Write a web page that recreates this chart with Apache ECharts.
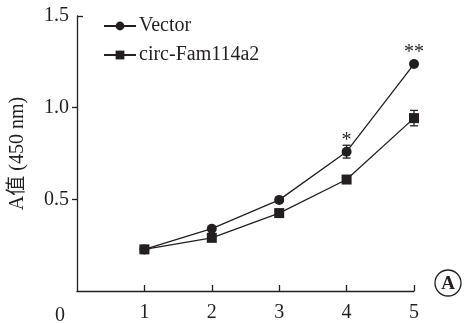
<!DOCTYPE html>
<html><head><meta charset="utf-8">
<script src="https://cdn.jsdelivr.net/npm/echarts@6/dist/echarts.min.js"></script>
<style>html,body{margin:0;padding:0;background:#fff}#c{width:465px;height:323px}</style>
</head><body><div id="c"></div>
<script>
var days = [1, 2, 3, 4, 5];
var vectorVals = [0.227, 0.340, 0.497, 0.760, 1.238];
var vectorErr = [0.006, 0.006, 0.006, 0.035, 0.006];
var circVals = [0.227, 0.290, 0.425, 0.608, 0.943];
var circErr = [0.006, 0.006, 0.006, 0.006, 0.042];
var vectorSig = ['', '', '', '*', '**'];
var yTicks = [0.5, 1.0, 1.5];
var xTicks = [1, 2, 3, 4, 5];

var FONT = '"Liberation Serif","Times New Roman",serif';
var INK = '#231f20';
var FS = 20;

function pts(v) { return days.map(function (d, i) { return [d, v[i]]; }); }
function errData(v, e) { return days.map(function (d, i) { return [d, v[i] - e[i], v[i] + e[i]]; }); }
function errRender(params, api) {
  var x = api.value(0);
  var lo = api.coord([x, api.value(1)]);
  var hi = api.coord([x, api.value(2)]);
  var w = 4;
  var st = { stroke: INK, lineWidth: 1.3 };
  return { type: 'group', children: [
    { type: 'line', shape: { x1: lo[0], y1: lo[1], x2: hi[0], y2: hi[1] }, style: st },
    { type: 'line', shape: { x1: lo[0] - w, y1: lo[1], x2: lo[0] + w, y2: lo[1] }, style: st },
    { type: 'line', shape: { x1: hi[0] - w, y1: hi[1], x2: hi[0] + w, y2: hi[1] }, style: st }
  ]};
}

var chart = echarts.init(document.getElementById('c'), null, { renderer: 'canvas' });
chart.setOption({
  backgroundColor: '#fff',
  animation: false,
  textStyle: { fontFamily: FONT, color: INK },
  grid: { left: 75, right: 51, top: 16, bottom: 28, containLabel: false },
  legend: {
    orient: 'vertical', left: 98, top: 11, itemWidth: 32, itemHeight: 11, itemGap: 9,
    textStyle: { fontFamily: FONT, fontSize: FS, color: INK, padding: [0, 0, 0, -2] },
    data: ['Vector', 'circ-Fam114a2']
  },
  xAxis: {
    type: 'value', min: 0, max: 5, interval: 1,
    axisLine: { lineStyle: { color: INK, width: 1.3 } },
    axisTick: { inside: true, length: 6, customValues: xTicks, lineStyle: { color: INK, width: 1.3 } },
    axisLabel: { customValues: xTicks, fontFamily: FONT, fontSize: FS, color: INK, margin: 12 },
    splitLine: { show: false }
  },
  yAxis: [{
    type: 'value', min: 0, max: 1.5, interval: 0.5,
    name: 'A值 (450 nm)', nameLocation: 'middle', nameGap: 49,
    nameTextStyle: { fontFamily: FONT + ',"Noto Sans CJK SC"', fontSize: FS, color: INK },
    axisLine: { show: true, lineStyle: { color: INK, width: 1.3 } },
    axisTick: { show: true, length: 5, customValues: [0.5, 1.0], lineStyle: { color: INK, width: 1.3 } },
    axisLabel: { customValues: yTicks, fontFamily: FONT, fontSize: FS, color: INK, margin: 8,
      formatter: function (v) { return v.toFixed(1); } },
    splitLine: { show: false }
  }, {
    type: 'value', min: 0, max: 1.5, position: 'left', offset: 0,
    axisLine: { show: false },
    axisTick: { show: true, inside: true, length: 6, customValues: [1.5], lineStyle: { color: INK, width: 1.3 } },
    axisLabel: { show: false }, splitLine: { show: false }
  }],
  series: [
    { name: 'Vector', type: 'line', data: pts(vectorVals), symbol: 'circle', symbolSize: 10,
      itemStyle: { color: INK }, lineStyle: { color: INK, width: 1.3 }, z: 3,
      label: { show: true, position: 'top', distance: -4, fontFamily: FONT, fontSize: FS, color: INK,
        formatter: function (p) { return vectorSig[p.dataIndex]; } } },
    { name: 'circ-Fam114a2', type: 'line', data: pts(circVals), symbol: 'rect', symbolSize: 10,
      itemStyle: { color: INK }, lineStyle: { color: INK, width: 1.3 }, z: 3 },
    { type: 'custom', data: errData(vectorVals, vectorErr), renderItem: errRender, z: 2, silent: true },
    { type: 'custom', data: errData(circVals, circErr), renderItem: errRender, z: 2, silent: true }
  ],
  graphic: [
    { type: 'text', left: 55, top: 306, style: { text: '0', font: FS + 'px ' + FONT, fill: INK } },
    { type: 'circle', shape: { cx: 448, cy: 283, r: 13 }, style: { fill: 'none', stroke: INK, lineWidth: 1.3 } },
    { type: 'text', x: 448, y: 284, style: { text: 'A', font: 'bold 19px ' + FONT, fill: INK, align: 'center', verticalAlign: 'middle' } }
  ]
});
</script></body></html>
